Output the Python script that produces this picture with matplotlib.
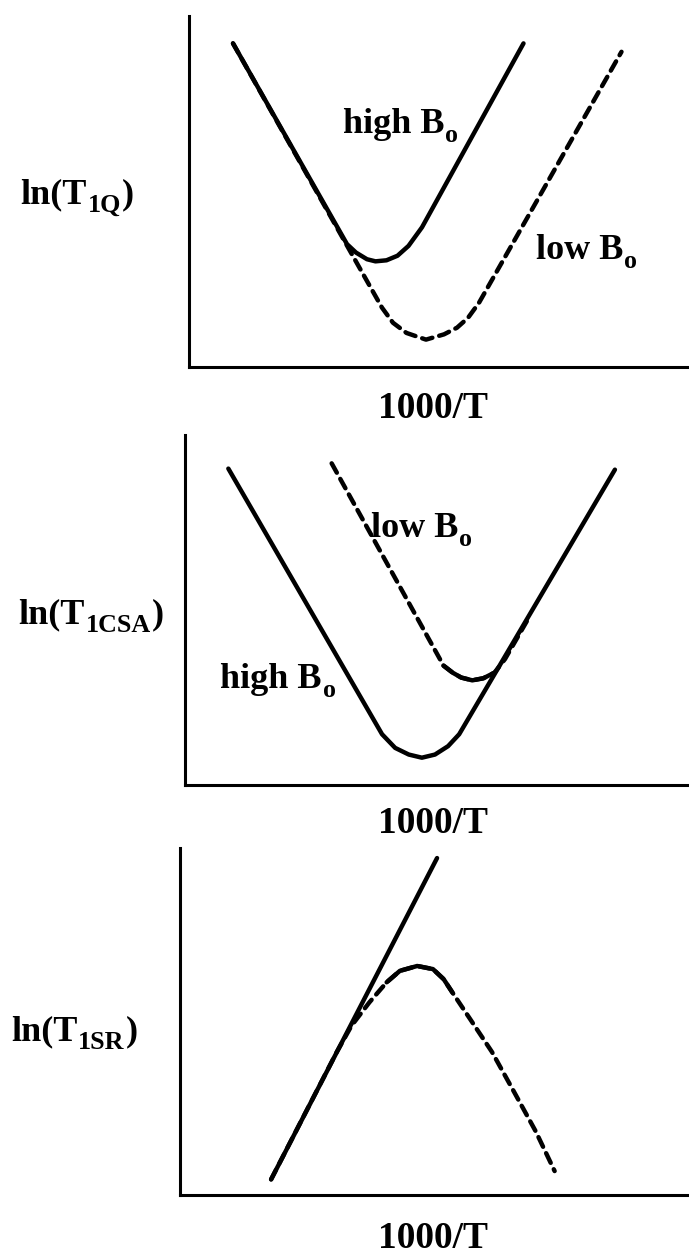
import matplotlib
matplotlib.use("Agg")
import matplotlib.pyplot as plt

plt.rcParams['font.family'] = ['Liberation Serif', 'DejaVu Serif']

W, H = 689.0, 1256.0

# --- T1 quadrupolar ---
q_high_x = [8.8, 31.6, 33.4, 35.6, 37.3, 39.5, 41.7, 43.9, 46.6, 66.9]
q_high_y = [92.2, 35.0, 32.6, 30.7, 30.1, 30.4, 31.7, 34.5, 39.8, 92.2]
q_low_x = [8.8, 38.6, 40.8, 43.5, 47.4, 51.0, 53.6, 55.8, 58.0, 86.5]
q_low_y = [92.2, 16.9, 12.6, 9.7, 7.8, 9.3, 11.2, 14.0, 18.3, 89.8]

# --- T1 chemical shift anisotropy ---
csa_high_x = [8.6, 39.1, 41.7, 44.4, 47.0, 49.6, 52.2, 54.4, 85.3]
csa_high_y = [90.4, 14.5, 10.6, 8.7, 7.8, 8.7, 11.1, 14.5, 90.1]
csa_low_x = [29.1, 51.3, 53.1, 54.8, 57.0, 59.2, 61.4, 63.5, 67.9]
csa_low_y = [91.9, 34.1, 32.1, 30.7, 29.9, 30.5, 32.1, 36.0, 47.0]

# --- T1 spin rotation ---
sr_line_x = [17.9, 50.5]
sr_line_y = [4.5, 97.1]
sr_curve_x = [17.9, 30.8, 33.7, 37.2, 40.6, 43.2, 46.6, 49.7, 51.8, 53.5,
              57.0, 61.3, 65.6, 69.9, 73.6]
sr_curve_y = [4.5, 41.2, 48.8, 55.5, 61.3, 64.6, 66.0, 65.1, 62.2, 58.4,
              50.7, 41.2, 29.8, 18.3, 6.9]

LW = 3.2
DASH = (2.4, 1.6)
FS = 26


def make_axes(fig, left, top, bottom, right=689):
    ax = fig.add_axes([left / W, 1 - bottom / H, (right - left) / W, (bottom - top) / H])
    ax.set_xlim(0, 100)
    ax.set_ylim(0, 100)
    for s in ['top', 'right']:
        ax.spines[s].set_visible(False)
    for s in ['left', 'bottom']:
        ax.spines[s].set_linewidth(2.2)
    ax.set_xticks([])
    ax.set_yticks([])
    ax.patch.set_alpha(0)
    return ax


def label(fig, x, y, main, sub, tail=''):
    # main text, lowered subscript, then optional tail, laid out left to right
    r = fig.canvas.get_renderer()
    parts = [(main, 1.0, 0), (sub, 0.72, 9), (tail, 1.0, 0)]
    for s, scale, dy in parts:
        if not s:
            continue
        t = fig.text(x / W, 1 - (y + dy) / H, s, fontsize=FS * scale,
                     fontweight='bold', ha='left', va='baseline')
        x += t.get_window_extent(r).width + 1


def xlabel(fig, y):
    fig.text(433 / W, 1 - y / H, '1000/T', fontsize=27, fontweight='bold',
             ha='center', va='baseline')


def curve(ax, x, y, dashed=False):
    kw = dict(color='black', lw=LW, solid_joinstyle='round', solid_capstyle='round')
    if dashed:
        kw.update(dashes=DASH, dash_capstyle='round', dash_joinstyle='round')
    ax.plot(x, y, **kw)


fig = plt.figure(figsize=(6.89, 12.56), dpi=100)

# panel 1
ax1 = make_axes(fig, 189, 16, 367)
curve(ax1, q_low_x, q_low_y, dashed=True)
curve(ax1, q_high_x, q_high_y)
label(fig, 343, 133, 'high B', 'o')
label(fig, 536, 259, 'low B', 'o')
label(fig, 20, 203, 'ln(T', '1Q', ')')
xlabel(fig, 418)

# panel 2
ax2 = make_axes(fig, 185, 435, 785)
curve(ax2, csa_low_x, csa_low_y, dashed=True)
curve(ax2, csa_low_x[1:7], csa_low_y[1:7])
curve(ax2, csa_high_x, csa_high_y)
label(fig, 371, 537, 'low B', 'o')
label(fig, 220, 688, 'high B', 'o')
label(fig, 18, 623, 'ln(T', '1CSA', ')')
xlabel(fig, 833)

# panel 3
ax3 = make_axes(fig, 180, 848, 1195)
curve(ax3, sr_curve_x, sr_curve_y, dashed=True)
curve(ax3, sr_curve_x[4:10], sr_curve_y[4:10])
curve(ax3, sr_line_x, sr_line_y)
label(fig, 11, 1040, 'ln(T', '1SR', ')')
xlabel(fig, 1248)

fig.savefig('out.png', dpi=100)
